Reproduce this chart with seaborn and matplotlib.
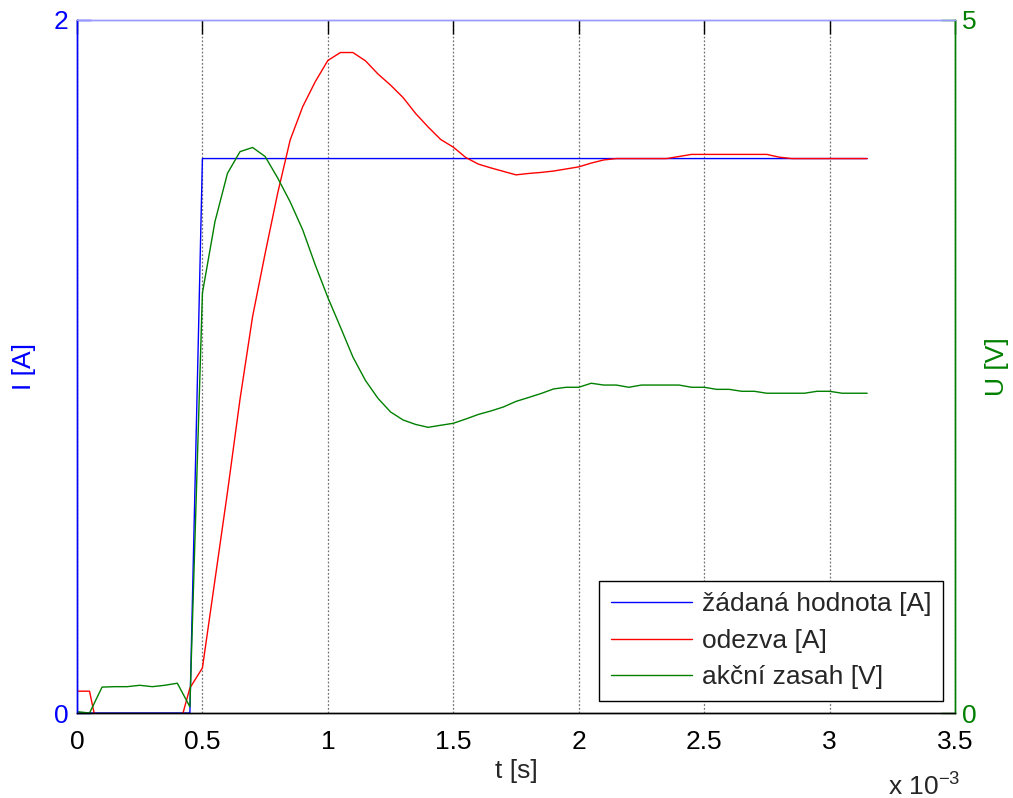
import numpy as np
import pandas as pd
import matplotlib
matplotlib.use("Agg")
import matplotlib.pyplot as plt
import seaborn as sns
from matplotlib.ticker import FuncFormatter

# cas vzorku [ms]
t_ms = [0.00, 0.05, 0.10, 0.15, 0.20, 0.25, 0.30, 0.35, 0.40, 0.45,
        0.50, 0.55, 0.60, 0.65, 0.70, 0.75, 0.80, 0.85, 0.90, 0.95,
        1.00, 1.05, 1.10, 1.15, 1.20, 1.25, 1.30, 1.35, 1.40, 1.45,
        1.50, 1.55, 1.60, 1.65, 1.70, 1.75, 1.80, 1.85, 1.90, 1.95,
        2.00, 2.05, 2.10, 2.15, 2.20, 2.25, 2.30, 2.35, 2.40, 2.45,
        2.50, 2.55, 2.60, 2.65, 2.70, 2.75, 2.80, 2.85, 2.90, 2.95,
        3.00, 3.05, 3.10, 3.15]

# zadana hodnota [A]
zadana = [0.0] * 10 + [1.6] * 54

# odezva [A]
odezva = [0.063, 0.063, -0.11, -0.08, -0.07, -0.06, -0.06, -0.06, -0.06, 0.072,
          0.130, 0.384, 0.638, 0.906, 1.144, 1.326, 1.500, 1.654, 1.750, 1.822,
          1.883, 1.906, 1.906, 1.882, 1.844, 1.812, 1.776, 1.730, 1.691, 1.655,
          1.633, 1.603, 1.584, 1.573, 1.563, 1.553, 1.557, 1.560, 1.564, 1.570,
          1.576, 1.587, 1.596, 1.600, 1.600, 1.600, 1.600, 1.600, 1.606, 1.612,
          1.612, 1.612, 1.612, 1.612, 1.612, 1.612, 1.604, 1.600, 1.600, 1.600,
          1.600, 1.600, 1.600, 1.600]

# akcni zasah [V]
zasah = [0.010, 0.000, 0.187, 0.190, 0.190, 0.200, 0.190, 0.200, 0.215, 0.045,
         3.030, 3.545, 3.894, 4.050, 4.080, 4.015, 3.860, 3.687, 3.485, 3.232,
         2.998, 2.785, 2.568, 2.399, 2.270, 2.172, 2.114, 2.082, 2.061, 2.076,
         2.090, 2.121, 2.154, 2.179, 2.208, 2.248, 2.276, 2.305, 2.338, 2.350,
         2.350, 2.379, 2.366, 2.366, 2.350, 2.366, 2.366, 2.366, 2.366, 2.350,
         2.350, 2.335, 2.335, 2.321, 2.321, 2.307, 2.307, 2.307, 2.307, 2.321,
         2.321, 2.307, 2.307, 2.307]

labels = ["žádaná hodnota [A]", "odezva [A]", "akční zasah [V]"]
x_ticks_ms = [0, 0.5, 1, 1.5, 2, 2.5, 3, 3.5]

df = pd.DataFrame({"t": np.array(t_ms) * 1e-3, "zadana": zadana,
                   "odezva": odezva, "zasah": zasah})

sns.set_style("white")
plt.rcParams['font.family'] = ['Liberation Sans', 'DejaVu Sans']
plt.rcParams['font.size'] = 19

blue = (0, 0, 1)
red = (1, 0, 0)
green = (0, 0.5, 0)

fig, ax = plt.subplots(figsize=(10.13, 7.98), dpi=100)
fig.subplots_adjust(left=0.076, right=0.9427, bottom=0.1065, top=0.975)
ax2 = ax.twinx()

sns.lineplot(data=df, x="t", y="zadana", ax=ax, color=blue, lw=1,
             sort=False, estimator=None, legend=False)
sns.lineplot(data=df, x="t", y="odezva", ax=ax, color=red, lw=1,
             sort=False, estimator=None, legend=False)
sns.lineplot(data=df, x="t", y="zasah", ax=ax2, color=green, lw=1,
             sort=False, estimator=None, legend=False)

ax.set_xlim(0, 3.5e-3)
ax.set_ylim(0, 2)
ax2.set_ylim(0, 5)
ax.set_xticks([v * 1e-3 for v in x_ticks_ms])
ax.xaxis.set_major_formatter(FuncFormatter(lambda v, p: f"{v * 1e3:g}"))
ax.set_yticks([0, 2])
ax2.set_yticks([0, 5])

ax.grid(axis="x", color="0.45", linestyle=(0, (1.5, 1.5)), lw=0.9)
ax.grid(axis="y", visible=False)
ax2.grid(False)

ax.tick_params(axis="x", direction="in", length=10, width=1, top=True,
               pad=12, labelsize=19, colors="black")
ax.tick_params(axis="y", direction="in", length=10, width=1, pad=6,
               labelsize=19, colors=blue)
ax2.tick_params(axis="y", direction="in", length=10, width=1, pad=5,
                labelsize=19, colors=green)

for a in (ax, ax2):
    a.spines["bottom"].set_color("black")
    a.spines["top"].set_color((0.6, 0.6, 1.0))
    a.spines["left"].set_color(blue)
    a.spines["right"].set_color(green)
    for s in a.spines.values():
        s.set_linewidth(1)

ax.set_xlabel("t [s]", fontsize=19, labelpad=4)
ax.set_ylabel("I [A]", fontsize=19, color=blue, labelpad=13)
ax2.set_ylabel("U [V]", fontsize=19, color=green, labelpad=6)

ax.text(0.9237, -0.118, "x 10$^{\\mathregular{-3}}$", transform=ax.transAxes,
        fontsize=19, va="baseline", ha="left")

handles = ax.get_lines()[:2] + ax2.get_lines()[:1]
leg = ax2.legend(handles, labels, loc="lower right", fontsize=19,
                 handlelength=3.1, handletextpad=0.35, labelspacing=0.47,
                 borderaxespad=0.45, fancybox=False, framealpha=1,
                 edgecolor="black", borderpad=0.45)
leg.get_frame().set_linewidth(1)

fig.savefig("out.png", dpi=100)
